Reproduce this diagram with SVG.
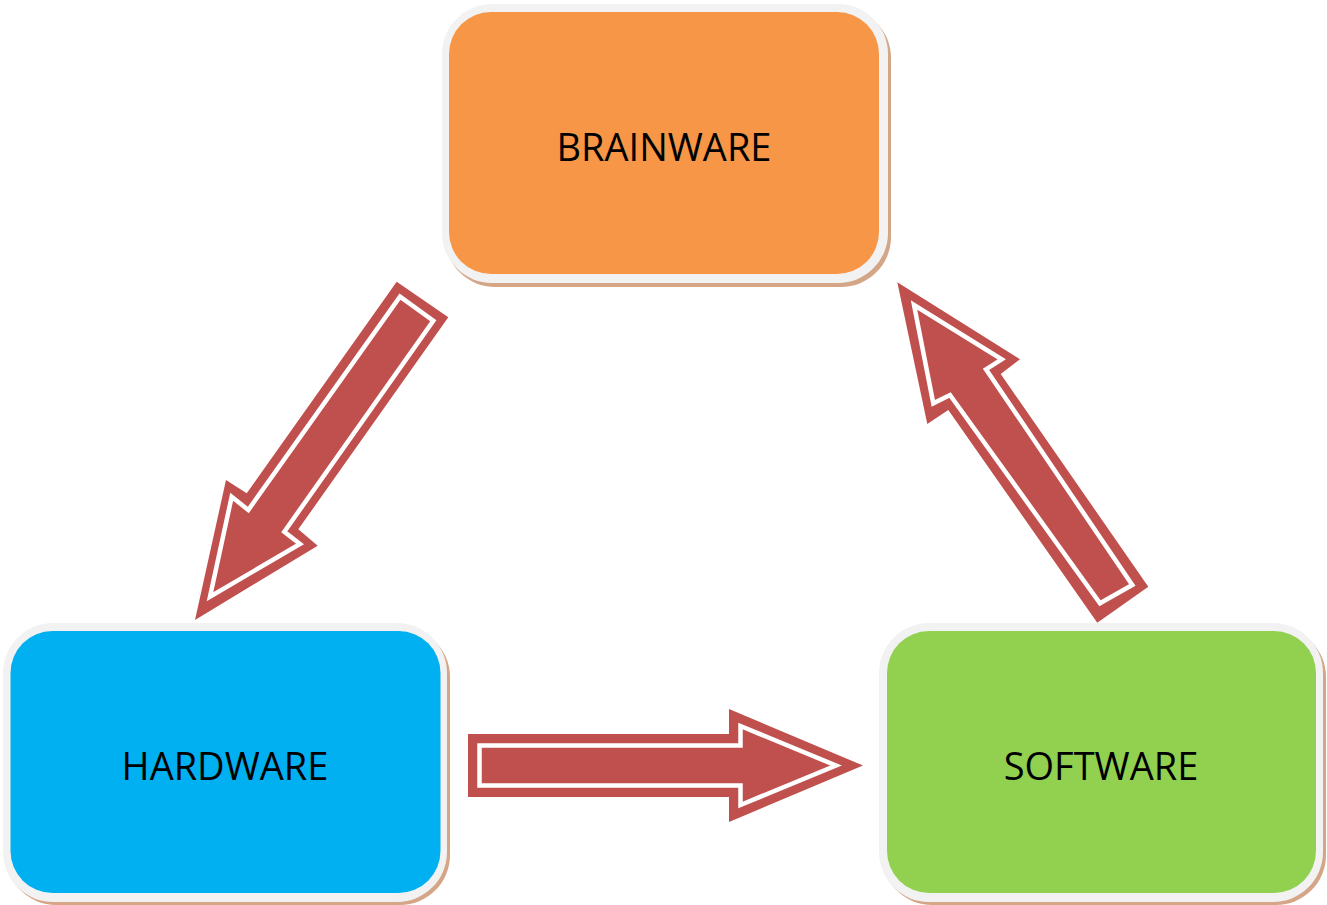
<svg xmlns="http://www.w3.org/2000/svg" width="1327" height="905" viewBox="0 0 1327 905">
<style>
.arrow{fill:#C0504D;stroke:none}
.inner{fill:none;stroke:#FFFFFF;stroke-width:4.5;stroke-linejoin:miter;stroke-miterlimit:10}
.shadow{fill:#D4A687}
.frame{fill:#F2F2F2}
.label{font-family:"Open Sans","Noto Sans","Liberation Sans",sans-serif;font-size:38px;fill:#000000;text-anchor:middle}
</style>
<rect width="1327" height="905" fill="#FFFFFF"/>
<g id="connectors">
<g id="arrow-brainware-hardware">
<polygon class="arrow" points="396.7,281.7 448.3,317.3 298.3,529.3 317.7,545.7 195,620 226,480 246.7,493.3"/>
<polygon class="inner" points="400,296.7 433.3,320.7 284.3,531.7 300,544 210,596.7 231.7,496.7 248.3,510"/>
</g>
<g id="arrow-hardware-software">
<polygon class="arrow" points="468,734 729,734 729,709 863,765.5 729,822 729,797 468,797"/>
<polygon class="inner" points="479.5,745.5 740.5,745.5 740.5,726 836,765.5 740.5,805 740.5,785.5 479.5,785.5"/>
</g>
<g id="arrow-software-brainware">
<polygon class="arrow" points="897.3,282.3 1020,359.3 1000.7,374 1148.3,586.7 1097.3,622.7 948.3,410 927.3,424"/>
<polygon class="inner" points="914,305 1001.7,359.3 986,369.3 1132.3,585 1100,603.3 950,395 933.3,403.3"/>
</g>
</g>
<g id="node-brainware">
<rect class="shadow" x="445" y="8" width="446" height="279" rx="50"/>
<rect class="frame" x="442" y="4" width="446" height="279" rx="50"/>
<rect x="449" y="12" width="430" height="262" rx="42" fill="#F79646"/>
<text class="label" x="664" y="161">BRAINWARE</text>
</g>
<g id="node-hardware">
<rect class="shadow" x="6" y="627" width="444" height="278" rx="50"/>
<rect class="frame" x="3" y="623" width="444" height="279" rx="50"/>
<rect x="10.5" y="631" width="430" height="262" rx="42" fill="#00B0F0"/>
<text class="label" x="225" y="780">HARDWARE</text>
</g>
<g id="node-software">
<rect class="shadow" x="882" y="627" width="444" height="278" rx="50"/>
<rect class="frame" x="879" y="623" width="444" height="279" rx="50"/>
<rect x="887" y="631" width="429" height="262" rx="42" fill="#92D050"/>
<text class="label" x="1101" y="780">SOFTWARE</text>
</g>
</svg>
